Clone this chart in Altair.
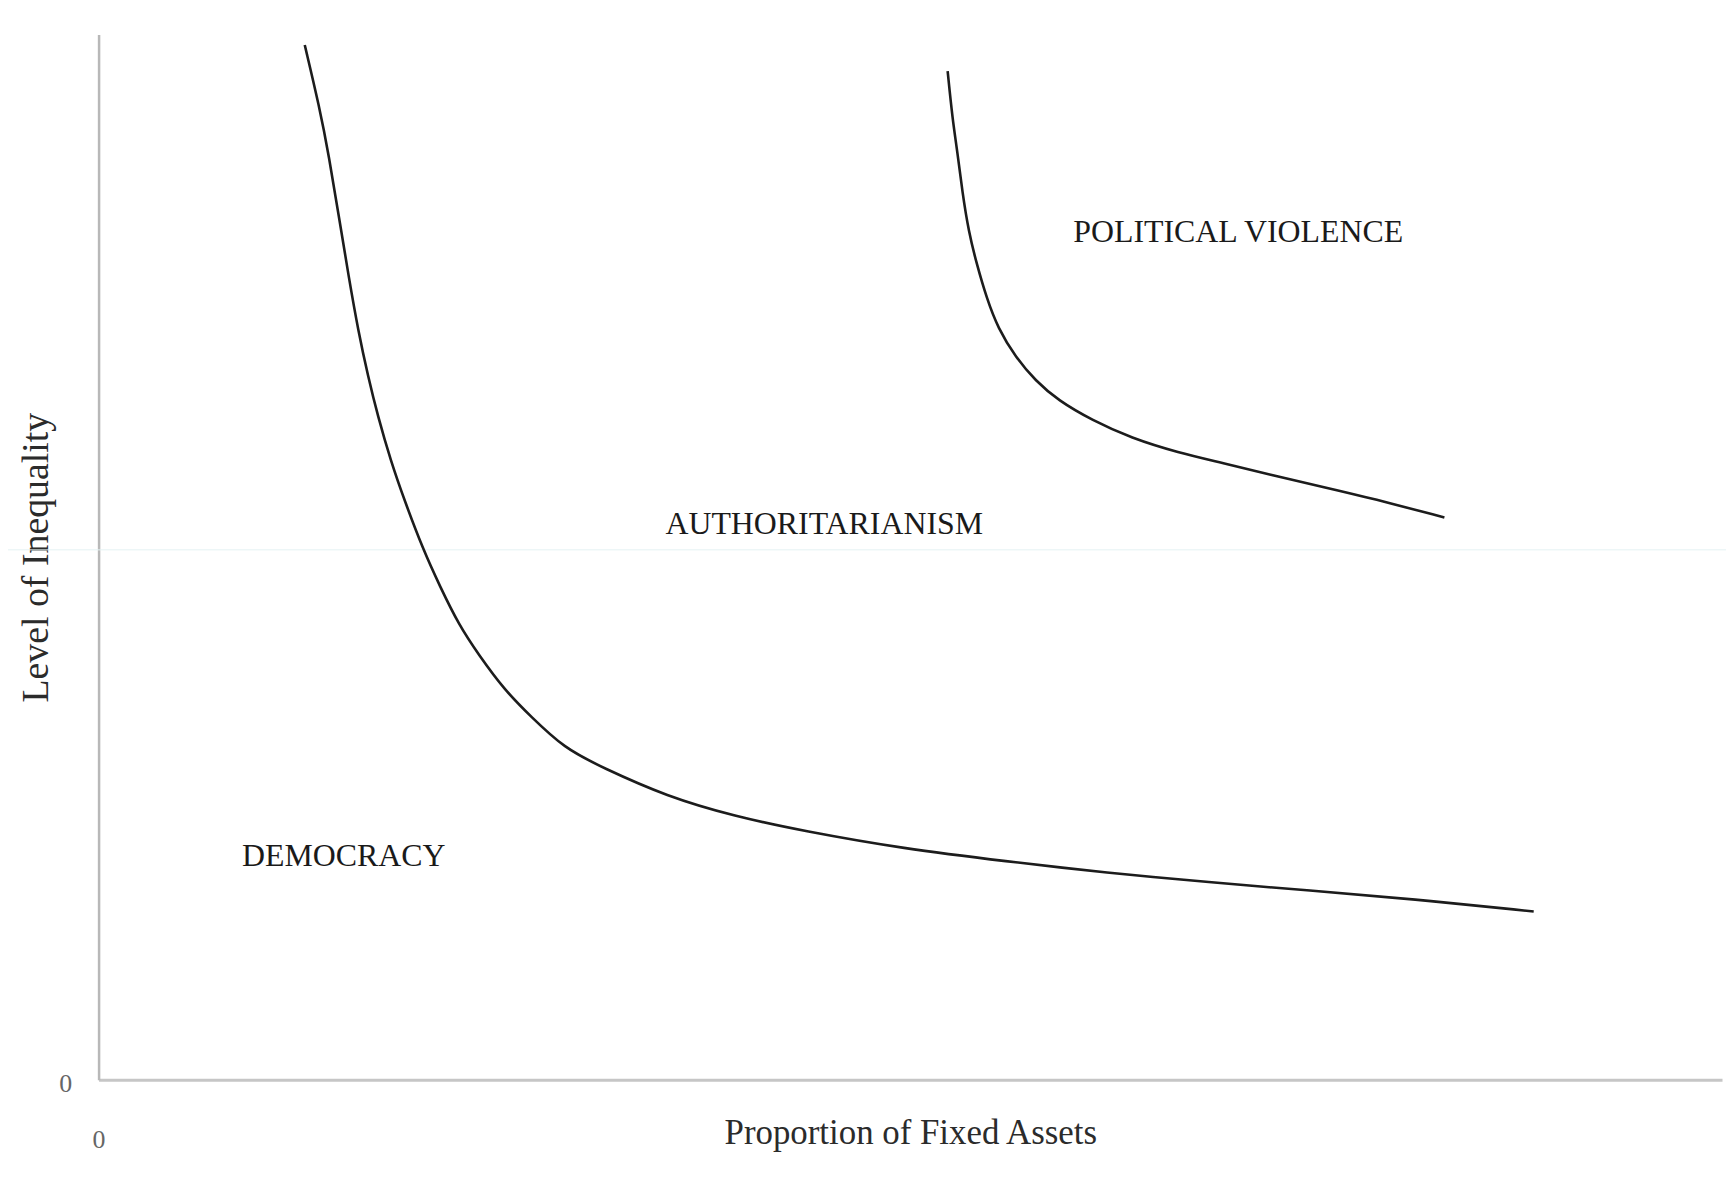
import altair as alt
import pandas as pd

# Lower boundary curve (Democracy / Authoritarianism)
lower_x = [12.7, 13.6, 14.2, 14.8, 15.4, 16.0, 16.6, 17.2, 18.0, 18.85, 20.0, 21.0, 22.2,
           23.4, 25.0, 26.6, 28.7, 31.0, 35.0, 39.2, 43.4, 49.6, 55.9, 62.1, 68.4, 74.6,
           80.9, 88.4]
lower_y = [99.0, 93.1, 88.3, 82.6, 76.9, 71.6, 67.3, 63.5, 59.2, 55.4, 50.7, 47.3, 43.5,
           40.7, 37.3, 34.8, 31.7, 29.9, 27.1, 25.2, 23.8, 22.1, 20.9, 19.8, 18.9, 18.1,
           17.3, 16.1]

# Upper boundary curve (Authoritarianism / Political violence)
upper_x = [52.3, 52.6, 52.9, 53.2, 53.6, 54.1, 54.7, 55.4, 56.5, 57.7, 59.1, 61.2, 63.6,
           66.5, 69.3, 72.4, 75.5, 78.5, 82.9]
upper_y = [96.5, 91.9, 88.8, 85.0, 81.1, 78.0, 74.8, 71.9, 69.1, 66.9, 65.0, 63.1, 61.4,
           60.0, 59.0, 57.8, 56.7, 55.6, 53.8]

region_names = ["DEMOCRACY", "AUTHORITARIANISM", "POLITICAL VIOLENCE"]
region_x = [15.1, 44.7, 70.2]
region_y = [21.4, 53.2, 81.1]

origin_ticks = [0]
faint_line_y = [50.7]

x_title = "Proportion of Fixed Assets"
y_title = "Level of Inequality"

SERIF = "Liberation Serif"

curves = pd.DataFrame({
    "x": lower_x + upper_x,
    "y": lower_y + upper_y,
    "curve": ["lower"] * len(lower_x) + ["upper"] * len(upper_x),
    "order": list(range(len(lower_x))) + list(range(len(upper_x))),
})
labels = pd.DataFrame({"name": region_names, "x": region_x, "y": region_y})
faint = pd.DataFrame({"y": faint_line_y})

xscale = alt.Scale(domain=[0, 100], nice=False)
yscale = alt.Scale(domain=[0, 100], nice=False)

x_axis = alt.Axis(
    values=origin_ticks, ticks=False, grid=False,
    domainColor="#c6c6c6", domainWidth=3,
    labelFont=SERIF, labelFontSize=26, labelColor="#666666",
    labelPadding=60, labelBaseline="middle", labelFlush=False,
    title=x_title, titleFont=SERIF, titleFontSize=35, titleFontWeight="normal",
    titleColor="#2b2b2b", titleY=64, titleBaseline="alphabetic",
)
y_axis = alt.Axis(
    values=origin_ticks, ticks=False, grid=False,
    domainColor="#b8b8b8", domainWidth=2.5,
    labelFont=SERIF, labelFontSize=26, labelColor="#666666",
    labelPadding=27, labelAlign="right", labelBaseline="middle",
    labelOffset=4, labelFlush=False,
    title=y_title, titleFont=SERIF, titleFontSize=38, titleFontWeight="normal",
    titleColor="#2b2b2b", titleX=-51, titleBaseline="alphabetic", titleAngle=270,
)

faint_rule = alt.Chart(faint).mark_rule(color="#e4f2f3", strokeWidth=1).encode(
    y=alt.Y("y:Q", scale=yscale),
    x=alt.value(-91),
    x2=alt.value(1635),
)

lines = alt.Chart(curves).mark_line(
    color="#1c1c1c", strokeWidth=2.6, interpolate="basis"
).encode(
    x=alt.X("x:Q", scale=xscale, axis=x_axis),
    y=alt.Y("y:Q", scale=yscale, axis=y_axis),
    detail="curve:N",
    order="order:Q",
)

texts = alt.Chart(labels).mark_text(
    font=SERIF, fontSize=32, color="#1a1a1a", align="center", baseline="middle"
).encode(
    x=alt.X("x:Q", scale=xscale),
    y=alt.Y("y:Q", scale=yscale),
    text="name:N",
)

chart = alt.layer(faint_rule, lines, texts).properties(
    width=1631,
    height=1050,
    autosize=alt.AutoSizeParams(type="none"),
    padding={"left": 91, "top": 24, "right": 4, "bottom": 100},
    background="white",
).configure_view(strokeWidth=0)

chart.save("out.html", embed_options={"renderer": "svg", "actions": False})
